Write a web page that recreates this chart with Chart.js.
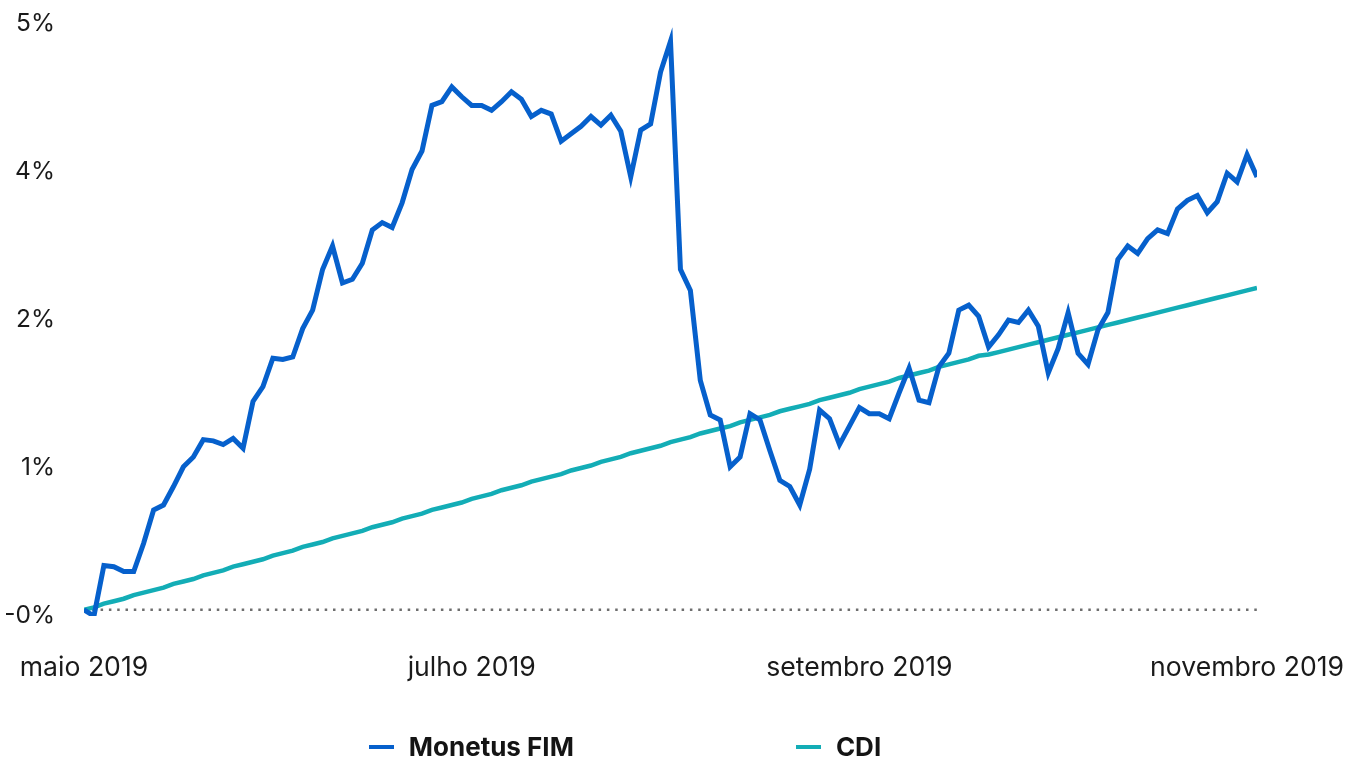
<!DOCTYPE html>
<html lang="pt-BR">
<head>
<meta charset="utf-8">
<title>Monetus FIM x CDI</title>
<script src="https://cdn.jsdelivr.net/npm/chart.js@4.4.1/dist/chart.umd.min.js"></script>
<style>
  html, body { margin: 0; padding: 0; background: #fff; }
  #wrap { position: relative; width: 1349px; height: 760px; overflow: hidden; }
  #legend {
    position: absolute; left: 0; top: 731px; width: 1250px;
    display: flex; justify-content: center; gap: 222px;
    font: 700 26px Inter, "Noto Sans", sans-serif; color: #141414;
  }
  .legend-item { display: flex; align-items: center; line-height: 32px; }
  .legend-line { width: 25px; height: 4px; margin-right: 15px; }
</style>
</head>
<body>
<div id="wrap">
  <canvas id="chart" width="1349" height="760"></canvas>
  <div id="legend"></div>
</div>
<script>
// Rentabilidade acumulada (%) — Monetus FIM vs CDI, mai–nov 2019

const seriesNames = ['Monetus FIM', 'CDI'];

const monetus = [
  0.00, -0.05, 0.36, 0.35, 0.31, 0.31, 0.54, 0.81, 0.85, 1.00,
  1.16, 1.24, 1.38, 1.37, 1.34, 1.39, 1.31, 1.69, 1.81, 2.04,
  2.03, 2.05, 2.28, 2.43, 2.76, 2.95, 2.65, 2.68, 2.81, 3.08,
  3.14, 3.10, 3.30, 3.57, 3.72, 4.09, 4.12, 4.24, 4.16, 4.09,
  4.09, 4.05, 4.12, 4.20, 4.14, 4.00, 4.05, 4.02, 3.80, 3.86,
  3.92, 4.00, 3.93, 4.01, 3.88, 3.51, 3.89, 3.94, 4.36, 4.61,
  2.76, 2.59, 1.86, 1.58, 1.54, 1.16, 1.24, 1.59, 1.54, 1.29,
  1.05, 1.00, 0.85, 1.14, 1.62, 1.55, 1.34, 1.49, 1.64, 1.59,
  1.59, 1.55, 1.76, 1.96, 1.70, 1.68, 1.97, 2.08, 2.43, 2.47,
  2.38, 2.13, 2.23, 2.35, 2.33, 2.43, 2.30, 1.92, 2.12, 2.41,
  2.08, 1.99, 2.27, 2.41, 2.84, 2.95, 2.89, 3.01, 3.08, 3.05,
  3.25, 3.32, 3.36, 3.22, 3.31, 3.54, 3.47, 3.69, 3.51
];

const cdi = [
  0.00, 0.02, 0.05, 0.07, 0.09, 0.12, 0.14, 0.16, 0.18, 0.21,
  0.23, 0.25, 0.28, 0.30, 0.32, 0.35, 0.37, 0.39, 0.41, 0.44,
  0.46, 0.48, 0.51, 0.53, 0.55, 0.58, 0.60, 0.62, 0.64, 0.67,
  0.69, 0.71, 0.74, 0.76, 0.78, 0.81, 0.83, 0.85, 0.87, 0.90,
  0.92, 0.94, 0.97, 0.99, 1.01, 1.04, 1.06, 1.08, 1.10, 1.13,
  1.15, 1.17, 1.20, 1.22, 1.24, 1.27, 1.29, 1.31, 1.33, 1.36,
  1.38, 1.40, 1.43, 1.45, 1.47, 1.49, 1.52, 1.54, 1.56, 1.58,
  1.61, 1.63, 1.65, 1.67, 1.70, 1.72, 1.74, 1.76, 1.79, 1.81,
  1.83, 1.85, 1.88, 1.90, 1.92, 1.94, 1.97, 1.99, 2.01, 2.03,
  2.06, 2.07, 2.09, 2.11, 2.13, 2.15, 2.17, 2.19, 2.21, 2.23,
  2.25, 2.27, 2.29, 2.31, 2.33, 2.35, 2.37, 2.39, 2.41, 2.43,
  2.45, 2.47, 2.49, 2.51, 2.53, 2.55, 2.57, 2.59, 2.61
];

// x = posição do pregão na série; meses marcados nas posições abaixo
const xTickPositions = [0, 39, 78, 117];
const xTickLabels    = ['maio 2019', 'julho 2019', 'setembro 2019', 'novembro 2019'];

const yTickValues = [-0.05, 1.15, 2.35, 3.55, 4.75];
const yTickLabels = ['-0%', '1%', '2%', '4%', '5%'];

const COLORS = {
  monetus: '#0660cc',
  cdi:     '#13adb6',
  zero:    '#6e6e6e',
  text:    '#1a1a1a',
};

const FONT_FAMILY = "Inter, 'Noto Sans', sans-serif";

const toPoints = arr => arr.map((v, i) => ({ x: i, y: v }));
const lastIndex = monetus.length - 1;

const chart = new Chart(document.getElementById('chart'), {
  type: 'line',
  data: {
    datasets: [
      {
        label: seriesNames[0],
        data: toPoints(monetus),
        borderColor: COLORS.monetus,
        borderWidth: 5,
        pointRadius: 0,
        tension: 0,
      },
      {
        label: seriesNames[1],
        data: toPoints(cdi),
        borderColor: COLORS.cdi,
        borderWidth: 4.5,
        pointRadius: 0,
        tension: 0,
      },
      {
        // linha pontilhada do zero
        label: 'zero',
        data: [{ x: 0, y: 0 }, { x: lastIndex, y: 0 }],
        borderColor: COLORS.zero,
        borderWidth: 2.5,
        borderDash: [2.5, 5.8],
        pointRadius: 0,
      },
    ]
  },
  options: {
    responsive: false,
    animation: false,
    devicePixelRatio: 1,
    layout: { padding: { top: 24, right: 92, bottom: 44, left: 0 } },
    plugins: {
      legend: { display: false },
      tooltip: { enabled: false },
    },
    scales: {
      x: {
        type: 'linear',
        min: 0,
        max: lastIndex,
        grid: { display: false, drawTicks: false },
        border: { display: false },
        ticks: {
          color: COLORS.text,
          font: { family: FONT_FAMILY, size: 26.6 },
          padding: 36,
          maxRotation: 0,
          autoSkip: false,
          callback: v => {
            const i = xTickPositions.indexOf(v);
            return i >= 0 ? xTickLabels[i] : '';
          }
        },
        afterBuildTicks: s => { s.ticks = xTickPositions.map(v => ({ value: v })); },
        afterFit: s => { s.height = 100; s.paddingLeft = 0; s.paddingRight = 0; },
      },
      y: {
        min: yTickValues[0],
        max: yTickValues[yTickValues.length - 1],
        grid: { display: false, drawTicks: false },
        border: { display: false },
        ticks: {
          color: COLORS.text,
          font: { family: FONT_FAMILY, size: 24.5 },
          padding: 29,
          callback: v => {
            const i = yTickValues.indexOf(v);
            return i >= 0 ? yTickLabels[i] : '';
          }
        },
        afterBuildTicks: s => { s.ticks = yTickValues.map(v => ({ value: v })); },
        afterFit: s => { s.width = 84; s.paddingTop = 0; s.paddingBottom = 0; },
      }
    }
  }
});

// Legenda HTML (espaçamento largo entre os itens, como no original)
const legend = document.getElementById('legend');
chart.data.datasets
  .filter(ds => seriesNames.includes(ds.label))
  .forEach(ds => {
    legend.innerHTML += `
      <div class="legend-item">
        <span class="legend-line" style="background:${ds.borderColor};"></span>
        ${ds.label}
      </div>`;
  });
</script>
</body>
</html>
